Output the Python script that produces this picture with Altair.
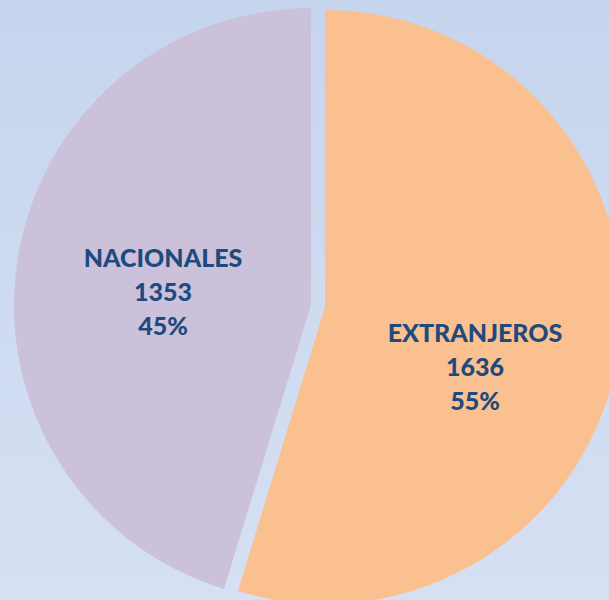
import altair as alt
import pandas as pd

categories = ["EXTRANJEROS", "NACIONALES"]
counts = [1636, 1353]
percents = ["55%", "45%"]

colors = ["#fac090", "#ccc1da"]
text_color = "#1f4a7d"

df = pd.DataFrame({"cat": categories, "value": counts, "pct": percents})
df["label"] = [[c, str(v), p] for c, v, p in zip(categories, counts, percents)]

W, H = 609, 600
R = 297

base = alt.Chart(df)

bg = alt.Chart(alt.Data(values=[{"a": 1}])).mark_rect(
    color=alt.Gradient(
        gradient="linear",
        stops=[alt.GradientStop(color="#c6d5ee", offset=0),
               alt.GradientStop(color="#d6e0f3", offset=1)],
        x1=0, x2=0, y1=0, y2=1,
    )
).encode(x=alt.value(0), x2=alt.value(W), y=alt.value(0), y2=alt.value(H))

def slice_layer(name, cx, cy):
    return base.mark_arc(radius=R, stroke=None).encode(
        theta=alt.Theta("value:Q", stack=True),
        color=alt.Color("cat:N", scale=alt.Scale(domain=categories, range=colors), legend=None),
        order=alt.Order("cat:N", sort="ascending"),
        opacity=alt.condition(alt.datum.cat == name, alt.value(1), alt.value(0)),
        x=alt.value(cx),
        y=alt.value(cy),
    )

ext = slice_layer("EXTRANJEROS", 325, 307)
nac = slice_layer("NACIONALES", 311, 305)

def label_layer(name, x, y):
    return base.transform_filter(alt.datum.cat == name).mark_text(
        font="Lato", fontWeight=900, fontSize=25, color=text_color,
        lineHeight=34, align="center", baseline="alphabetic",
    ).encode(text="label", x=alt.value(x), y=alt.value(y))

lab_ext = label_layer("EXTRANJEROS", 475, 342)
lab_nac = label_layer("NACIONALES", 163, 267)

chart = alt.layer(bg, ext, nac, lab_ext, lab_nac).properties(
    width=W, height=H, padding=0, autosize=alt.AutoSizeParams(type="none")
).configure_view(stroke=None).configure(background="#cdd9f0")

chart.save("out.html", embed_options={"renderer": "svg", "actions": False})
